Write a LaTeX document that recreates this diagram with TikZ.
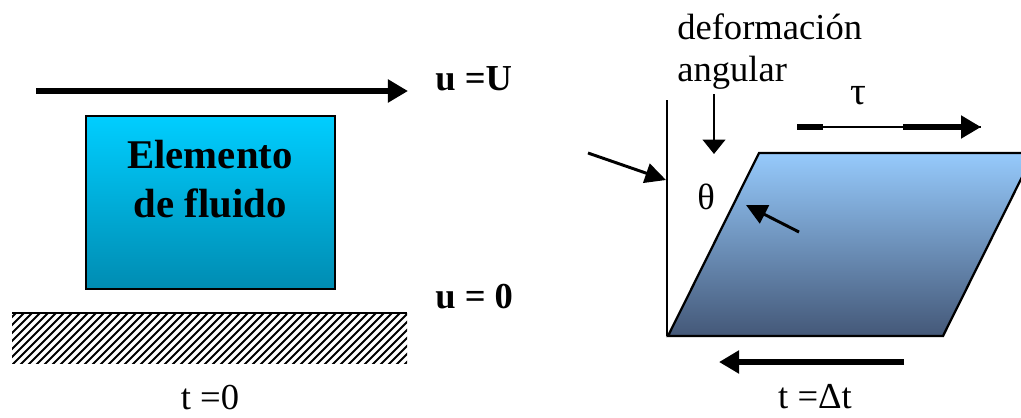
\documentclass[tikz,border=0pt]{standalone}
\usepackage{fontspec}
\setmainfont{Liberation Serif}
\usetikzlibrary{arrows.meta}
\definecolor{cian}{RGB}{0,206,255}
\definecolor{cianosc}{RGB}{0,140,178}
\definecolor{celeste}{RGB}{150,202,252}
\definecolor{azulosc}{RGB}{68,88,120}

\begin{document}
\begin{tikzpicture}[x=0.025cm,y=-0.025cm,
    flecha/.style={line width=4.3pt,-{Triangle[length=0.5cm,width=0.55cm]}},
    flechita/.style={line width=2.1pt,-{Triangle[length=0.52cm,width=0.5cm]}},
    texto/.style={font=\fontsize{26}{30.5}\selectfont,inner sep=0pt}]
    \useasboundingbox (0,0) rectangle (1021,417);
    % Placa superior en movimiento
    \coordinate (pa) at (36,91);
    \coordinate (pb) at (408,91);
    \draw[flecha] (pa) -- (pb);
    \node[texto,anchor=west] (uU) at (435,79) {\textbf{u =U}};
    % Elemento de fluido
    \shade[top color=cian,bottom color=cianosc] (86,116) rectangle (335,289);
    \draw[line width=1.6pt] (86,116) rectangle (335,289);
    \node[texto,align=center,font=\fontsize{29}{35}\selectfont\bfseries] (elem) at (210,179) {Elemento\\de fluido};
    \node[texto,anchor=west] (u0) at (435,297) {\textbf{u = 0}};
    % Pared fija rayada
    \begin{scope}
        \clip (12,313) rectangle (407,363);
        \foreach \i in {-60,-52,...,420}
            \draw[line width=1.4pt] (\i,365) -- (\i+54,311);
    \end{scope}
    \draw[line width=1.6pt] (12,313) -- (407,313);
    \node[texto] (t0) at (210,398) {t =0};
    % Deformacion angular
    \node[texto,anchor=north west,align=left] (def) at (677,13) {deformación\\angular};
    \draw[line width=1.9pt] (667,100) -- (667,336);
    \coordinate (fa) at (588,153);
    \coordinate (fb) at (666,180);
    \draw[flechita] (fa) -- (fb);
    \coordinate (da) at (714,94);
    \coordinate (db) at (714,154);
    \draw[flechita,-{Triangle[length=0.36cm,width=0.56cm]}] (da) -- (db);
    % Esfuerzo cortante
    \node[texto,font=\fontsize{28}{30}\selectfont] (tau) at (858,96) {τ};
    \coordinate (ta) at (797,127);
    \coordinate (tm) at (823,127);
    \coordinate (tn) at (903,127);
    \coordinate (tb) at (981,127);
    \draw[line width=1pt] (ta) -- (tb);
    \draw[line width=4.3pt] (ta) -- (tm);
    \draw[flecha] (tn) -- (tb);
    % Paralelogramo deformado
    \shade[top color=celeste,bottom color=azulosc]
        (668,336) -- (759,153) -- (1034,153) -- (943,336) -- cycle;
    \draw[line width=1.6pt] (668,336) -- (759,153) -- (1034,153) -- (943,336) -- cycle;
    \node[texto] (theta) at (706,197) {θ};
    \coordinate (ia) at (799,232);
    \coordinate (ib) at (746,205);
    \draw[flechita] (ia) -- (ib);
    \coordinate (ba) at (904,362);
    \coordinate (bb) at (719,362);
    \draw[flecha] (ba) -- (bb);
    \node[texto] (tdt) at (815,397) {t =Δt};
\end{tikzpicture}
\end{document}
